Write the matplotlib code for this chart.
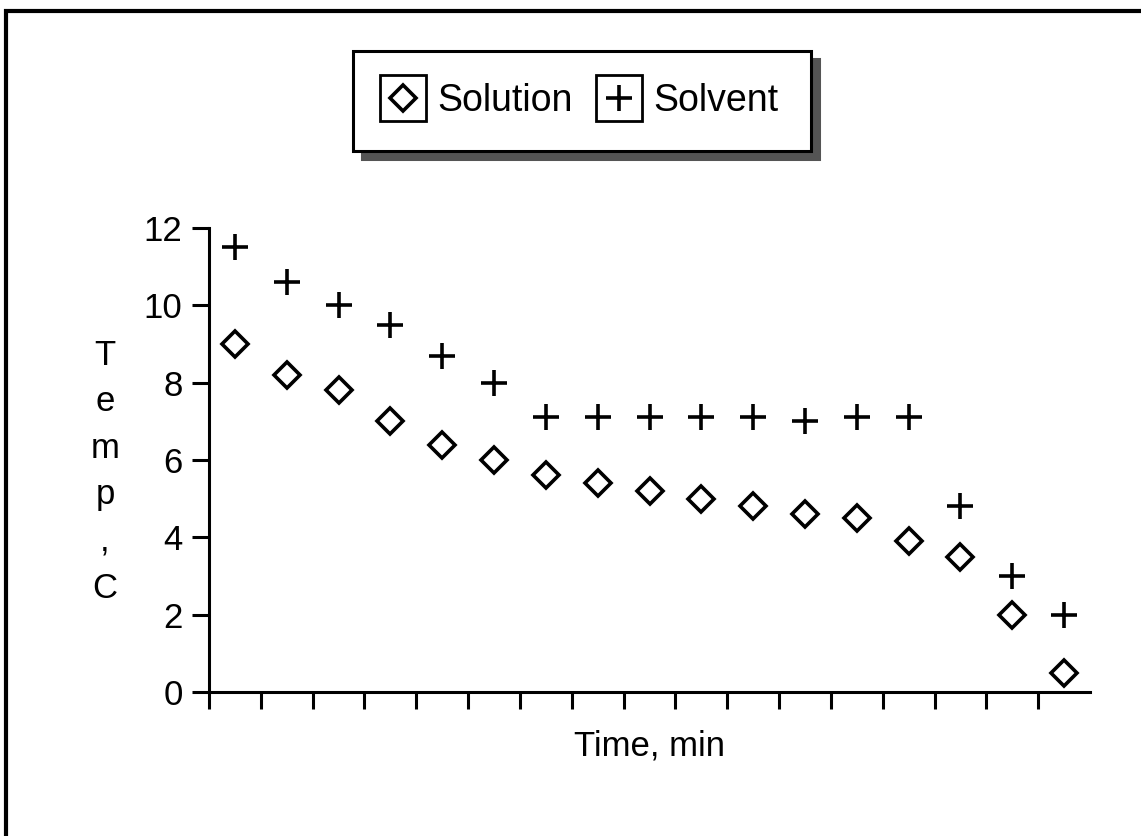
import matplotlib.pyplot as plt
from matplotlib.lines import Line2D
from matplotlib.patches import Rectangle
from matplotlib.legend_handler import HandlerTuple

plt.rcParams['font.family'] = ['Liberation Sans', 'DejaVu Sans']

# readings, one per time step (17 steps)
solution = [9.0, 8.2, 7.8, 7.0, 6.4, 6.0, 5.6, 5.4, 5.2, 5.0, 4.8, 4.6, 4.5, 3.9, 3.5, 2.0, 0.5]
solvent = [11.5, 10.6, 10.0, 9.5, 8.7, 8.0, 7.1, 7.1, 7.1, 7.1, 7.1, 7.0, 7.1, 7.1, 4.8, 3.0, 2.0]
yticks = [0, 2, 4, 6, 8, 10, 12]
ylabel_chars = ['T', 'e', 'm', 'p', ',', 'C']

W, H = 1141, 836
FS = 24
fig = plt.figure(figsize=(W / 100, H / 100), dpi=100)
ax = fig.add_axes([209 / W, 1 - 692 / H, (1090 - 209) / W, (692 - 228) / H])

x = list(range(len(solution)))
ax.plot(x, solution, linestyle='none', marker='D', ms=13.5, mfc='white',
        mec='black', mew=2.6, clip_on=False)
ax.plot(x, solvent, linestyle='none', marker='+', ms=19, mec='black',
        mew=2.6, clip_on=False)

ax.set_xlim(-0.5, len(solution) - 0.5)
ax.set_ylim(0, 12)
ax.set_yticks(yticks)
ax.set_xticks([i - 0.5 for i in range(len(solution))])
ax.set_xticklabels([])
ax.tick_params(axis='both', direction='out', length=12, width=2.2,
               labelsize=FS + 1, pad=7)
for s in ['top', 'right']:
    ax.spines[s].set_visible(False)
for s in ['left', 'bottom']:
    ax.spines[s].set_linewidth(2.2)
ax.set_xlabel('Time, min', fontsize=FS + 1, labelpad=8)

# stacked vertical y label
for i, ch in enumerate(ylabel_chars):
    fig.text(105 / W, 1 - (355 + i * 46.6) / H, ch, fontsize=FS + 1,
             ha='center', va='center')

# legend with boxed markers
sq = dict(linestyle='none', marker='s', ms=33, mfc='none', mec='black', mew=2.0)
h_sol = (Line2D([], [], **sq),
         Line2D([], [], linestyle='none', marker='D', ms=13.5, mfc='white',
                mec='black', mew=2.6))
h_slv = (Line2D([], [], **sq),
         Line2D([], [], linestyle='none', marker='+', ms=19, mec='black', mew=2.6))
leg = fig.legend([h_sol, h_slv], ['Solution', 'Solvent'],
                 handler_map={tuple: HandlerTuple(ndivide=1, pad=0)},
                 loc='center', bbox_to_anchor=(582 / W, 1 - 101 / H),
                 ncol=2, fontsize=27, frameon=True, fancybox=False,
                 shadow={'ox': 6, 'oy': -6, 'color': '0.33', 'alpha': 1},
                 handlelength=0.95, handletextpad=0.45, columnspacing=0.75,
                 borderpad=0.85, borderaxespad=0)
leg.get_frame().set_edgecolor('black')
leg.get_frame().set_linewidth(2.2)
leg.get_frame().set_alpha(1)

# outer frame, only top and left edges fall inside the image
fig.add_artist(Rectangle((6 / W, -0.1), 1.2, 1 - 10.5 / H + 0.1,
                         transform=fig.transFigure, fill=False,
                         edgecolor='black', linewidth=3, clip_on=False))

fig.savefig('out.png', dpi=100)
